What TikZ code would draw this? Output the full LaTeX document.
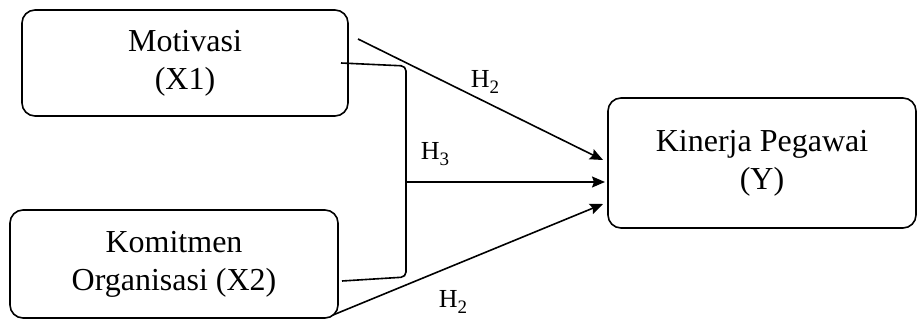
\documentclass[tikz,border=0pt]{standalone}
\usepackage{fontspec}
\setmainfont{Liberation Serif}
\usetikzlibrary{arrows.meta}
\newcommand{\hsub}[1]{H\raisebox{-6pt}{\fontsize{19}{19}\selectfont #1}}
\begin{document}
\begin{tikzpicture}[x=1pt,y=-1pt,
  box/.style={draw,line width=1.6pt,rounded corners=13pt,align=center,inner sep=0pt,
    font=\fontsize{32}{38}\selectfont},
  link/.style={line width=1.6pt},
  arr/.style={link,-{Stealth[length=13pt,width=11pt,inset=2pt]}},
  hlab/.style={font=\fontsize{26}{30}\selectfont,inner sep=0pt}]
\useasboundingbox (0,0) rectangle (918,320);
\node[box,minimum width=326pt,minimum height=106pt] (mot) at (185,63) {Motivasi\\(X1)};
\node[box,minimum width=328pt,minimum height=108pt] (kom) at (174,264) {Komitmen\\Organisasi (X2)};
\node[box,minimum width=308pt,minimum height=130pt] (kin) at (762,163) {Kinerja Pegawai\\(Y)};
% connector end points
\coordinate (a1) at (358,39);
\coordinate (a2) at (603,160);
\coordinate (b1) at (341,63);
\coordinate (b2) at (406,277);
\coordinate (b3) at (342,281);
\coordinate (m1) at (406,182);
\coordinate (m2) at (605,182);
\coordinate (c1) at (333,315);
\coordinate (c2) at (603,204);
\draw[arr] (a1) -- (a2);
\draw[link,rounded corners=5pt] (b1) -- (406,66) -- (b2) -- (b3);
\draw[arr] (m1) -- (m2);
\draw[arr] (c1) -- (c2);
\node[hlab] (h2a) at (485,82) {\hsub{2}};
\node[hlab] (h3) at (435,154) {\hsub{3}};
\node[hlab] (h2b) at (453,302) {\hsub{2}};
\end{tikzpicture}
\end{document}
